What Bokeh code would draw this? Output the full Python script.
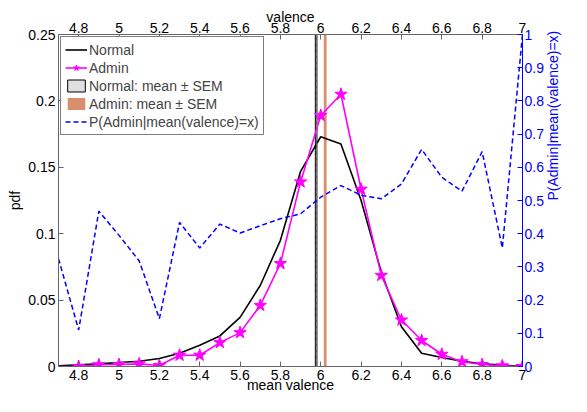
import math
from bokeh.plotting import figure
from bokeh.models import (Range1d, LinearAxis, FixedTicker, Legend, LegendItem,
                          ColumnDataSource, Span)
from bokeh.embed import file_html
from bokeh.resources import INLINE

# ---------------- data ----------------
valence = [4.7, 4.8, 4.9, 5.0, 5.1, 5.2, 5.3, 5.4, 5.5, 5.6, 5.7, 5.8,
           5.9, 6.0, 6.1, 6.2, 6.3, 6.4, 6.5, 6.6, 6.7, 6.8, 6.9, 7.0]
pdf_normal = [0.0005, 0.0012, 0.002, 0.003, 0.004, 0.006, 0.010, 0.016,
              0.023, 0.037, 0.061, 0.095, 0.147, 0.173, 0.1675, 0.125,
              0.071, 0.030, 0.010, 0.0068, 0.004, 0.002, 0.001, 0.0002]
pdf_admin = [0.0, 0.0, 0.0013, 0.0015, 0.002, 0.0007, 0.0085, 0.0085,
             0.018, 0.0255, 0.046, 0.0775, 0.139, 0.189, 0.205, 0.1335,
             0.0686, 0.035, 0.0196, 0.0092, 0.0036, 0.0015, 0.0005, 0.0]
p_admin = [0.325, 0.11, 0.468, 0.395, 0.318, 0.144, 0.434, 0.357, 0.429,
           0.402, 0.424, 0.445, 0.46, 0.51, 0.545, 0.516, 0.505, 0.55,
           0.654, 0.57, 0.528, 0.647, 0.357, 1.0]
normal_mean, normal_sem = 5.977, 0.004
admin_mean, admin_sem = 6.022, 0.007

xtick_vals = [4.8, 5.0, 5.2, 5.4, 5.6, 5.8, 6.0, 6.2, 6.4, 6.6, 6.8, 7.0]
xtick_labels = ["4.8", "5", "5.2", "5.4", "5.6", "5.8", "6", "6.2", "6.4",
                "6.6", "6.8", "7"]
ytick_vals = [0, 0.05, 0.1, 0.15, 0.2, 0.25]
ytick_labels = ["0", "0.05", "0.1", "0.15", "0.2", "0.25"]
rtick_vals = [0, 0.1, 0.2, 0.3, 0.4, 0.5, 0.6, 0.7, 0.8, 0.9, 1.0]
rtick_labels = ["0", "0.1", "0.2", "0.3", "0.4", "0.5", "0.6", "0.7", "0.8",
                "0.9", "1"]

FONT = "Liberation Sans"
FS = "14px"
AX = "#666666"
BLUE = "#0000FF"
ORANGE = "#D8906C"

p = figure(width=571, height=396, output_backend="svg", toolbar_location=None,
           x_range=Range1d(4.7, 7.0), y_range=Range1d(0, 0.25),
           min_border_left=58, min_border_right=34, min_border_top=34,
           min_border_bottom=30)
p.extra_y_ranges = {"right": Range1d(0, 1)}
p.grid.visible = False
p.outline_line_color = None
p.background_fill_color = "white"
p.border_fill_color = "white"


def style_axis(ax, ticks, labels, color, tcolor):
    ax.ticker = FixedTicker(ticks=ticks)
    ax.major_label_overrides = {t: l for t, l in zip(ticks, labels)}
    ax.axis_line_color = color
    ax.major_tick_line_color = color
    ax.minor_tick_line_color = None
    ax.major_tick_in = 5
    ax.major_tick_out = 0
    ax.major_label_text_font = FONT
    ax.major_label_text_font_size = FS
    ax.major_label_text_color = tcolor
    ax.axis_label_text_font = FONT
    ax.axis_label_text_font_size = FS
    ax.axis_label_text_font_style = "normal"
    ax.axis_label_text_color = tcolor
    ax.major_label_standoff = 3


xb = p.xaxis[0]
style_axis(xb, xtick_vals, xtick_labels, AX, "black")
xb.axis_label = "mean valence"
xb.axis_label_standoff = -6

yl = p.yaxis[0]
style_axis(yl, ytick_vals, ytick_labels, AX, "black")
yl.axis_label = "pdf"
yl.axis_label_standoff = 2

xt = LinearAxis(axis_label="valence")
style_axis(xt, xtick_vals, xtick_labels, AX, "black")
xt.major_label_standoff = 2
xt.axis_label_standoff = -5
p.add_layout(xt, "above")

yr = LinearAxis(y_range_name="right", axis_label="P(Admin|mean(valence)=x)")
style_axis(yr, rtick_vals, rtick_labels, BLUE, BLUE)
yr.major_label_standoff = 2
yr.axis_label_standoff = 6
try:
    yr.axis_label_orientation = math.pi / 2
except Exception:
    pass
p.add_layout(yr, "right")

# mean +- SEM bands
band_n = p.quad(left=[normal_mean - normal_sem], right=[normal_mean + normal_sem],
                bottom=[0], top=[0.25], fill_color="#E0E0E0",
                line_color="black", line_width=1)
p.add_layout(Span(location=normal_mean + normal_sem, dimension="height",
                  line_color="#999999", line_width=1, line_dash="3 3"))
band_a = p.quad(left=[admin_mean - admin_sem], right=[admin_mean + admin_sem],
                bottom=[0], top=[0.25], fill_color=ORANGE, line_color=None)

src = ColumnDataSource(dict(x=valence, n=pdf_normal, a=pdf_admin, pr=p_admin))
r_n = p.line("x", "n", source=src, line_color="black", line_width=1.6)
r_a = p.line("x", "a", source=src, line_color="#FF00FF", line_width=1.6)
star_src = ColumnDataSource(dict(x=valence[1:], a=pdf_admin[1:]))
r_s = p.scatter("x", "a", source=star_src, marker="star", size=13,
                fill_color="#FF00FF", line_color="#FF00FF")
r_p = p.line("x", "pr", source=src, y_range_name="right", line_color=BLUE,
             line_width=1.5, line_dash="5 3")

legend = Legend(items=[
    LegendItem(label="Normal", renderers=[r_n]),
    LegendItem(label="Admin", renderers=[r_a, r_s]),
    LegendItem(label="Normal: mean \u00b1 SEM", renderers=[band_n]),
    LegendItem(label="Admin: mean \u00b1 SEM", renderers=[band_a]),
    LegendItem(label="P(Admin|mean(valence)=x)", renderers=[r_p]),
], location="top_left")
legend.margin = 2
legend.padding = 4
legend.spacing = 1
legend.label_height = 17
legend.glyph_height = 15
legend.glyph_width = 22
legend.label_standoff = 2
legend.label_text_font = FONT
legend.label_text_font_size = FS
legend.border_line_color = "black"
legend.border_line_width = 1
legend.background_fill_color = "white"
legend.background_fill_alpha = 1
p.add_layout(legend, "center")

open("out.html", "w").write(file_html(p, INLINE))
